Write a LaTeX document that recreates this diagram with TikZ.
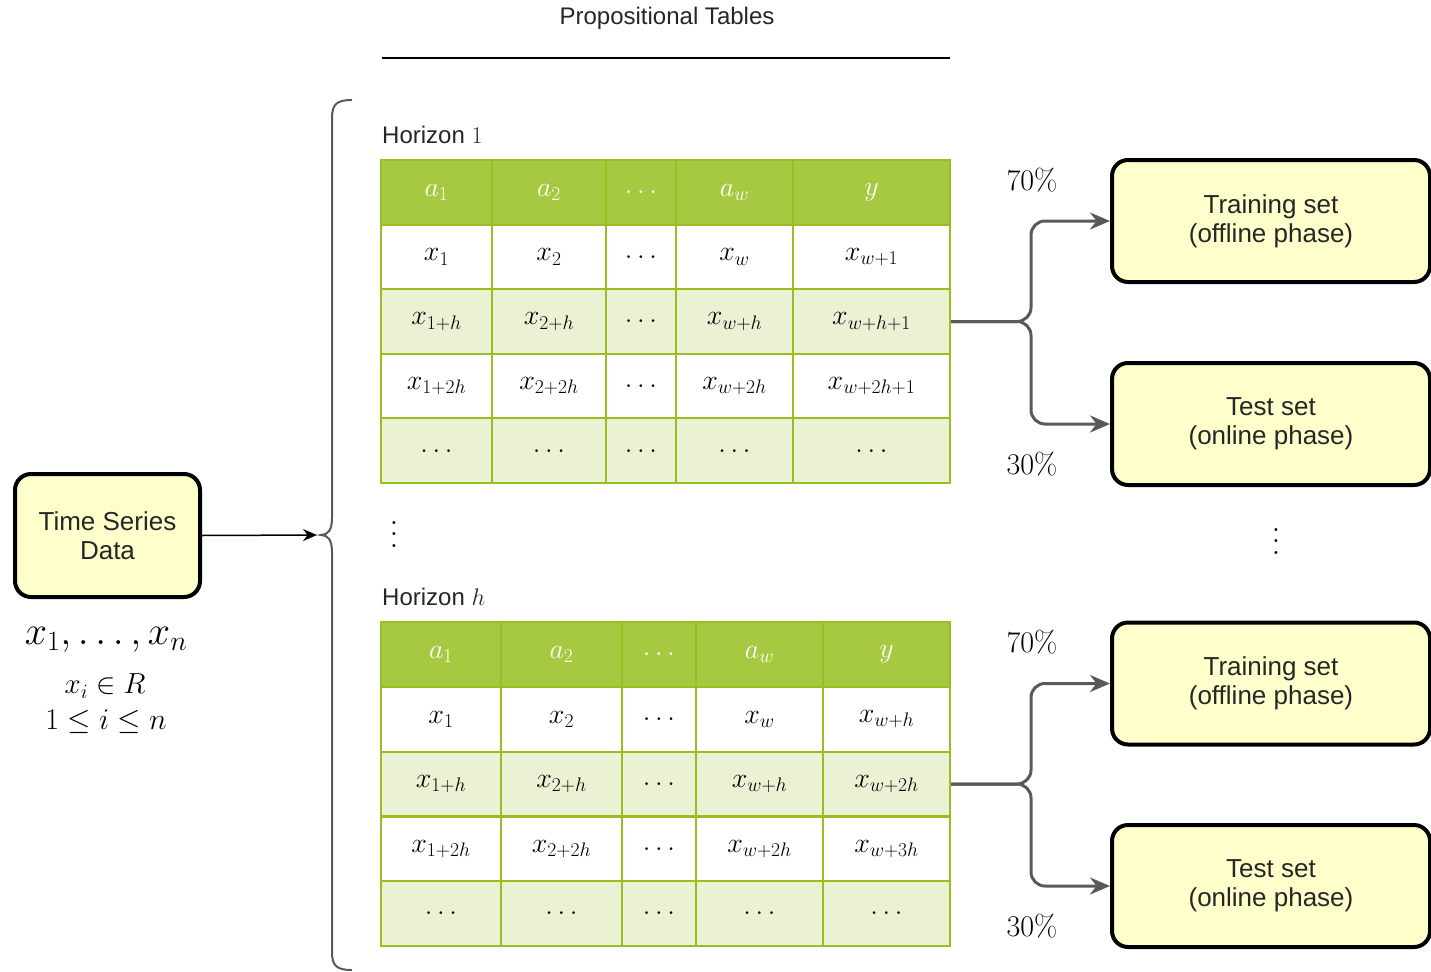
\RequirePackage{fix-cm}
\documentclass[tikz,border=0pt]{standalone}
\usepackage{amsmath}
\usepackage{amssymb}
\usepackage{fontspec}
\setsansfont{Liberation Sans}
\usepackage{tikz}
\usetikzlibrary{shapes.geometric, arrows.meta}

\definecolor{hdgreen}{HTML}{A7C942}
\definecolor{bdgreen}{HTML}{98BF21}
\definecolor{rowgreen}{HTML}{EAF2D3}
\definecolor{boxyellow}{HTML}{FFFFCC}
\definecolor{splitgray}{HTML}{595959}

\tikzset{
  cell/.style={draw=bdgreen,line width=2pt,shape=rectangle,inner sep=0pt,minimum height=64.6pt,font=\fontsize{28}{32}\selectfont},
  head/.style={cell,fill=hdgreen,text=white},
  oddrow/.style={cell,fill=white},
  evenrow/.style={cell,fill=rowgreen},
  box/.style={draw,shape=rectangle,rounded corners=16pt,line width=4pt,fill=boxyellow,align=center,text=black!85,font=\sffamily\fontsize{26}{29}\selectfont},
  split/.style={draw=splitgray,line width=3pt,rounded corners=14pt,-{Stealth[length=20pt,width=17pt]}},
  pct/.style={font=\fontsize{30}{34}\selectfont},
  label/.style={text=black!85,font=\sffamily\fontsize{24}{28}\selectfont},
}

\begin{document}
\begin{tikzpicture}[x=1pt,y=-1pt]
\useasboundingbox(0,0)rectangle(1431,971);

            \node[label](t0)at(667,18){Propositional Tables};
            \draw[line width=2pt](382,58)--(950,58);

            \node[box,minimum width=185pt,minimum height=123pt](n1)at(107.5,535.5){Time Series\\Data};
            \node[font=\fontsize{40}{44}\selectfont](f1)at(106,640){$x_1,\ldots,x_n$};
            \node[font=\fontsize{29}{33}\selectfont](f2)at(105,686){$x_i\in R$};
            \node[font=\fontsize{30}{34}\selectfont](f3)at(106,722){$1\leq i\leq n$};

            % curly bracket
            \draw[splitgray,line width=2pt](352,100)..controls(337,100)and(332,104)..(332,118)--(332,518)
                ..controls(332,530)and(328,535)..(321,535)..controls(328,535)and(332,540)..(332,552)
                --(332,952)..controls(332,966)and(337,970)..(352,970);
            \coordinate(bt)at(317,535);
            \draw[line width=1.5pt,-{Stealth[length=14pt,width=12pt]}](n1.east)--(bt);

            % Horizon 1
            \node[label,anchor=west,inner sep=0pt](hz1)at(382,135){Horizon $1$};
            \node[head,minimum width=111pt](c01)at(436.5,192.3){$a_1$};
            \node[head,minimum width=114pt](c02)at(549,192.3){$a_2$};
            \node[head,minimum width=70pt](c03)at(641,192.3){$\ldots$};
            \node[head,minimum width=117pt](c04)at(734.5,192.3){$a_w$};
            \node[head,minimum width=157pt](c05)at(871.5,192.3){$y$};
            \node[oddrow,minimum width=111pt](c11)at(436.5,256.9){$x_1$};
            \node[oddrow,minimum width=114pt](c12)at(549,256.9){$x_2$};
            \node[oddrow,minimum width=70pt](c13)at(641,256.9){$\ldots$};
            \node[oddrow,minimum width=117pt](c14)at(734.5,256.9){$x_w$};
            \node[oddrow,minimum width=157pt](c15)at(871.5,256.9){$x_{w+1}$};
            \node[evenrow,minimum width=111pt](c21)at(436.5,321.5){$x_{1+h}$};
            \node[evenrow,minimum width=114pt](c22)at(549,321.5){$x_{2+h}$};
            \node[evenrow,minimum width=70pt](c23)at(641,321.5){$\ldots$};
            \node[evenrow,minimum width=117pt](c24)at(734.5,321.5){$x_{w+h}$};
            \node[evenrow,minimum width=157pt](c25)at(871.5,321.5){$x_{w+h+1}$};
            \node[oddrow,minimum width=111pt](c31)at(436.5,386.1){$x_{1+2h}$};
            \node[oddrow,minimum width=114pt](c32)at(549,386.1){$x_{2+2h}$};
            \node[oddrow,minimum width=70pt](c33)at(641,386.1){$\ldots$};
            \node[oddrow,minimum width=117pt](c34)at(734.5,386.1){$x_{w+2h}$};
            \node[oddrow,minimum width=157pt](c35)at(871.5,386.1){$x_{w+2h+1}$};
            \node[evenrow,minimum width=111pt](c41)at(436.5,450.7){$\ldots$};
            \node[evenrow,minimum width=114pt](c42)at(549,450.7){$\ldots$};
            \node[evenrow,minimum width=70pt](c43)at(641,450.7){$\ldots$};
            \node[evenrow,minimum width=117pt](c44)at(734.5,450.7){$\ldots$};
            \node[evenrow,minimum width=157pt](c45)at(871.5,450.7){$\ldots$};

            \node[scale=2.8](vd1)at(394,526){$\vdots$};
            \node[scale=2.8](vd2)at(1276,533){$\vdots$};

            % Horizon h
            \node[label,anchor=west,inner sep=0pt](hzh)at(382,597){Horizon $h$};
            \node[head,minimum width=120pt](d01)at(441,654.4){$a_1$};
            \node[head,minimum width=121pt](d02)at(561.5,654.4){$a_2$};
            \node[head,minimum width=74pt](d03)at(659,654.4){$\ldots$};
            \node[head,minimum width=127pt](d04)at(759.5,654.4){$a_w$};
            \node[head,minimum width=127pt](d05)at(886.5,654.4){$y$};
            \node[oddrow,minimum width=120pt](d11)at(441,719.2){$x_1$};
            \node[oddrow,minimum width=121pt](d12)at(561.5,719.2){$x_2$};
            \node[oddrow,minimum width=74pt](d13)at(659,719.2){$\ldots$};
            \node[oddrow,minimum width=127pt](d14)at(759.5,719.2){$x_w$};
            \node[oddrow,minimum width=127pt](d15)at(886.5,719.2){$x_{w+h}$};
            \node[evenrow,minimum width=120pt](d21)at(441,784){$x_{1+h}$};
            \node[evenrow,minimum width=121pt](d22)at(561.5,784){$x_{2+h}$};
            \node[evenrow,minimum width=74pt](d23)at(659,784){$\ldots$};
            \node[evenrow,minimum width=127pt](d24)at(759.5,784){$x_{w+h}$};
            \node[evenrow,minimum width=127pt](d25)at(886.5,784){$x_{w+2h}$};
            \node[oddrow,minimum width=120pt](d31)at(441,848.8){$x_{1+2h}$};
            \node[oddrow,minimum width=121pt](d32)at(561.5,848.8){$x_{2+2h}$};
            \node[oddrow,minimum width=74pt](d33)at(659,848.8){$\ldots$};
            \node[oddrow,minimum width=127pt](d34)at(759.5,848.8){$x_{w+2h}$};
            \node[oddrow,minimum width=127pt](d35)at(886.5,848.8){$x_{w+3h}$};
            \node[evenrow,minimum width=120pt](d41)at(441,913.6){$\ldots$};
            \node[evenrow,minimum width=121pt](d42)at(561.5,913.6){$\ldots$};
            \node[evenrow,minimum width=74pt](d43)at(659,913.6){$\ldots$};
            \node[evenrow,minimum width=127pt](d44)at(759.5,913.6){$\ldots$};
            \node[evenrow,minimum width=127pt](d45)at(886.5,913.6){$\ldots$};

            % sets
            \node[box,minimum width=318pt,minimum height=122pt](n2)at(1271,221){Training set\\(offline phase)};
            \node[box,minimum width=318pt,minimum height=122pt](n3)at(1271,424){Test set\\(online phase)};
            \node[box,minimum width=318pt,minimum height=122pt](n4)at(1271,683.5){Training set\\(offline phase)};
            \node[box,minimum width=318pt,minimum height=122pt](n5)at(1271,886){Test set\\(online phase)};

            \node[pct](p1)at(1032,180){70\%};
            \node[pct](p2)at(1032,464){30\%};
            \node[pct](p3)at(1032,642){70\%};
            \node[pct](p4)at(1032,926){30\%};

            \draw[split](c25.east)--++(80,0)|-(n2.west);
            \draw[split](c25.east)--++(80,0)|-(n3.west);
            \draw[split](d25.east)--++(80,0)|-(n4.west);
            \draw[split](d25.east)--++(80,0)|-(n5.west);
\end{tikzpicture}
\end{document}
